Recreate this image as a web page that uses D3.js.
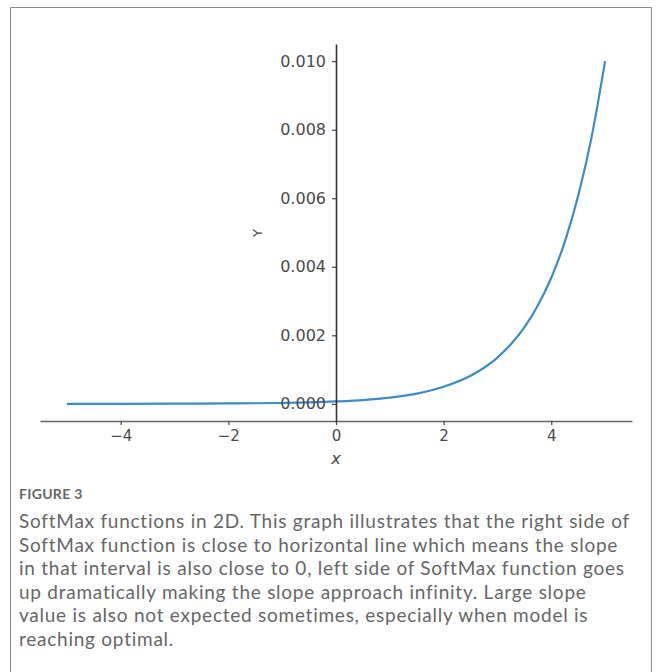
<!DOCTYPE html>
<html>
<head>
<meta charset="utf-8">
<script src="https://cdn.jsdelivr.net/npm/d3@7"></script>
<style>
  body { margin: 0; background: #fff; }
  svg { display: block; }
</style>
</head>
<body>
<div id="chart"></div>
<script>
// data
var xValues = [-5, -4, -3, -2, -1, 0, 0.5, 1, 1.5, 2, 2.5, 3, 3.25, 3.5, 3.75, 4, 4.25, 4.5, 4.75, 5];
var yValues = [0.0000005, 0.000002, 0.000005, 0.000012, 0.000025, 0.00007, 0.00011, 0.00018, 0.0003, 0.0005,
               0.00082, 0.00135, 0.00174, 0.00223, 0.00287, 0.00368, 0.00472, 0.00607, 0.00779, 0.01];
var xTicks = [-4, -2, 0, 2, 4];
var yTicks = [0, 0.002, 0.004, 0.006, 0.008, 0.010];
var captionTitle = "FIGURE 3";
var captionLines = [
  "SoftMax functions in 2D. This graph illustrates that the right side of",
  "SoftMax function is close to horizontal line which means the slope",
  "in that interval is also close to 0, left side of SoftMax function goes",
  "up dramatically making the slope approach infinity. Large slope",
  "value is also not expected sometimes, especially when model is",
  "reaching optimal."
];

var width = 656, height = 672;
var svg = d3.select("#chart").append("svg")
    .attr("width", width)
    .attr("height", height);

// frame round the figure
svg.append("path")
    .attr("d", "M10.5,690 V7.5 H651.5 V690")
    .attr("fill", "none")
    .attr("stroke", "#8a8a8a")
    .attr("stroke-width", 1);

// scales (matplotlib-like 5% margins)
var xScale = d3.scaleLinear().domain([-5.5, 5.5]).range([40, 632]);
var yScale = d3.scaleLinear().domain([-0.0005, 0.0105]).range([421, 44]);

var tickFont = "DejaVu Sans, sans-serif";

// curve
var data = xValues.map((x, i) => ({ x: x, y: yValues[i] }));
var line = d3.line()
    .x(d => xScale(d.x))
    .y(d => yScale(d.y))
    .curve(d3.curveMonotoneX);

svg.append("path")
    .datum(data)
    .attr("d", line)
    .attr("fill", "none")
    .attr("stroke", "#3b8bc6")
    .attr("stroke-width", 2.2);

// x axis at the bottom
var xAxis = svg.append("g")
    .attr("transform", `translate(0, ${yScale(-0.0005)})`)
    .call(d3.axisBottom(xScale).tickValues(xTicks).tickSize(4).tickSizeOuter(0).tickPadding(5)
        .tickFormat(d => d < 0 ? "\u2212" + Math.abs(d) : d));
xAxis.select(".domain").attr("stroke", "#666").attr("stroke-width", 1.6);
xAxis.selectAll(".tick line").attr("stroke", "#444").attr("stroke-width", 1.2);
xAxis.selectAll(".tick text")
    .attr("fill", "#4a4a4a")
    .style("font-family", tickFont)
    .style("font-size", "15px");

// y axis through x = 0
var yAxis = svg.append("g")
    .attr("transform", `translate(${xScale(0)}, 0)`)
    .call(d3.axisLeft(yScale).tickValues(yTicks).tickSize(4).tickSizeOuter(0).tickPadding(6)
        .tickFormat(d3.format(".3f")));
yAxis.select(".domain").attr("stroke", "#333").attr("stroke-width", 1.6);
yAxis.selectAll(".tick line").attr("stroke", "#444").attr("stroke-width", 1.2);
yAxis.selectAll(".tick text")
    .attr("fill", "#4a4a4a")
    .style("font-family", tickFont)
    .style("font-size", "16px");

// axis labels
svg.append("text")
    .attr("x", xScale(0))
    .attr("y", 464)
    .attr("text-anchor", "middle")
    .attr("fill", "#444")
    .style("font-family", tickFont)
    .style("font-style", "italic")
    .style("font-size", "16px")
    .text("x");

svg.append("text")
    .attr("transform", "translate(262, 233) rotate(-90)")
    .attr("text-anchor", "middle")
    .attr("fill", "#444")
    .style("font-family", tickFont)
    .style("font-size", "13px")
    .text("Y");

// caption
svg.append("text")
    .attr("x", 19)
    .attr("y", 499)
    .attr("fill", "#666")
    .style("font-family", "Lato, sans-serif")
    .style("font-size", "14px")
    .style("font-weight", 700)
    .style("letter-spacing", "0.3px")
    .text(captionTitle);

svg.append("g")
    .selectAll("text")
    .data(captionLines)
    .join("text")
    .attr("x", 19)
    .attr("y", (d, i) => 528 + i * 23.6)
    .attr("fill", "#666")
    .style("font-family", "Lato, sans-serif")
    .style("font-size", "19px")
    .style("letter-spacing", "0.75px")
    .text(d => d);
</script>
</body>
</html>
